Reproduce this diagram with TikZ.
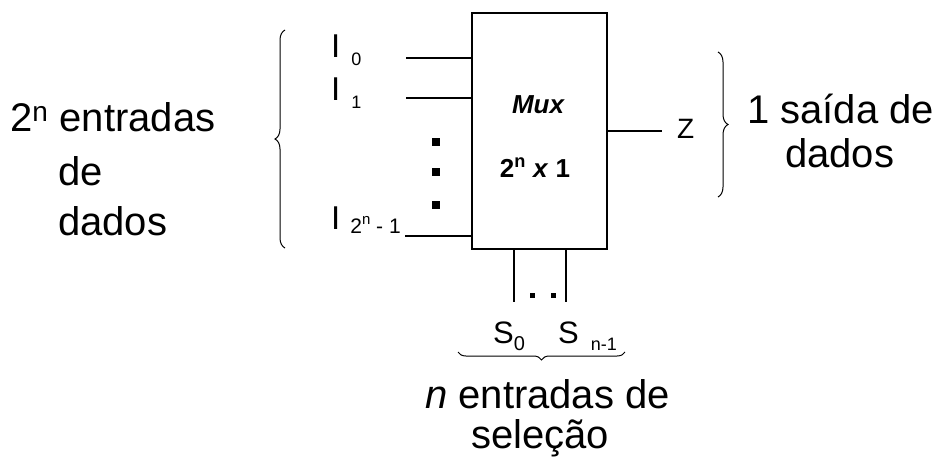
\documentclass[tikz,border=0pt]{standalone}
\usepackage{fontspec}
\setmainfont{Liberation Sans}
\usetikzlibrary{positioning,decorations.pathreplacing}

\newcommand{\fsz}[1]{\fontsize{#1}{#1}\selectfont}

\begin{document}
\begin{tikzpicture}[
  x=1pt, y=-1pt,
  wire/.style={line width=1.2pt},
  txt/.style={inner sep=0pt, anchor=base west, font=\fsz{40}},
  pin/.style={inner sep=0pt, anchor=base west, font=\fsz{33}},
  curly/.style={decorate, decoration={brace, amplitude=#1}, line width=1pt},
  sqdot/.style={fill, inner sep=0pt, minimum size=#1},
]
  \useasboundingbox (0,0) rectangle (951,461);

  % Multiplexer block
  \node[draw, line width=1.3pt, minimum width=135pt, minimum height=236pt, inner sep=0pt] (mux) at (539.5,131) {};
  \node[font=\bfseries\itshape\fsz{26}, anchor=base, inner sep=0pt] (muxname) at (538,113) {Mux};
  \node[font=\bfseries\fsz{26}, anchor=base, inner sep=0pt] (muxsize) at (535,177) {2\textsuperscript{n} \textit{x} 1};

  % Data inputs
  \coordinate (in0) at (406,58);
  \coordinate (in1) at (406,98);
  \coordinate (inN) at (405,236);
  \draw[wire] (in0) -- (in0 -| mux.west);
  \draw[wire] (in1) -- (in1 -| mux.west);
  \draw[wire] (inN) -- (inN -| mux.west);
  \node[pin] (lab0) at (331,57) {I\hspace{11pt}\raisebox{-8pt}{\fsz{18}0}};
  \node[pin] (lab1) at (331,100) {I\hspace{11pt}\raisebox{-8pt}{\fsz{18}1}};
  \node[pin] (labN) at (331,229) {I\hspace{10pt}\raisebox{-4pt}{\fsz{21}2\raisebox{9pt}{\fsz{15}n} - 1}};
  \foreach \y/\n in {142/a, 172/b, 205/c}
    \node[sqdot=8pt] (vdot\n) at (436,\y) {};

  % Output
  \coordinate (zend) at (662,131);
  \draw[wire] (mux.east) -- (zend);
  \node[anchor=base west, inner sep=0pt, font=\fsz{28}] (zlab) at (677,138) {Z};

  % Select inputs
  \coordinate (s0end) at (514,302);
  \coordinate (s1end) at (566,302);
  \draw[wire] (s0end |- mux.south) -- (s0end);
  \draw[wire] (s1end |- mux.south) -- (s1end);
  \node[sqdot=5pt] (hdota) at (532,295) {};
  \node[sqdot=5pt] (hdotb) at (553,295) {};
  \node[anchor=base west, inner sep=0pt, font=\fsz{31}] (sel0) at (493,343) {S\raisebox{-7pt}{\fsz{20}0}};
  \node[anchor=base west, inner sep=0pt, font=\fsz{31}] (sel1) at (558,343) {S\hspace{12pt}\raisebox{-7pt}{\fsz{18}n-1}};

  % Braces
  \draw[curly=10pt] (285,248) -- (285,30);
  \draw[curly=10pt] (718,52) -- (718,197);
  \draw[curly=8pt] (625,352) -- (458,352);

  % Descriptions
  \node[txt] (datain) at (10,131) {2\textsuperscript{n} entradas};
  \node[txt] (datade) at (58,185) {de};
  \node[txt] (datados) at (58,235) {dados};
  \node[txt] (outtxt) at (747,123) {1 saída de};
  \node[txt] (outdados) at (785,167) {dados};
  \node[txt] (seltxt) at (425,408) {\textit{n} entradas de};
  \node[txt] (selcao) at (471,448) {seleção};
\end{tikzpicture}
\end{document}
